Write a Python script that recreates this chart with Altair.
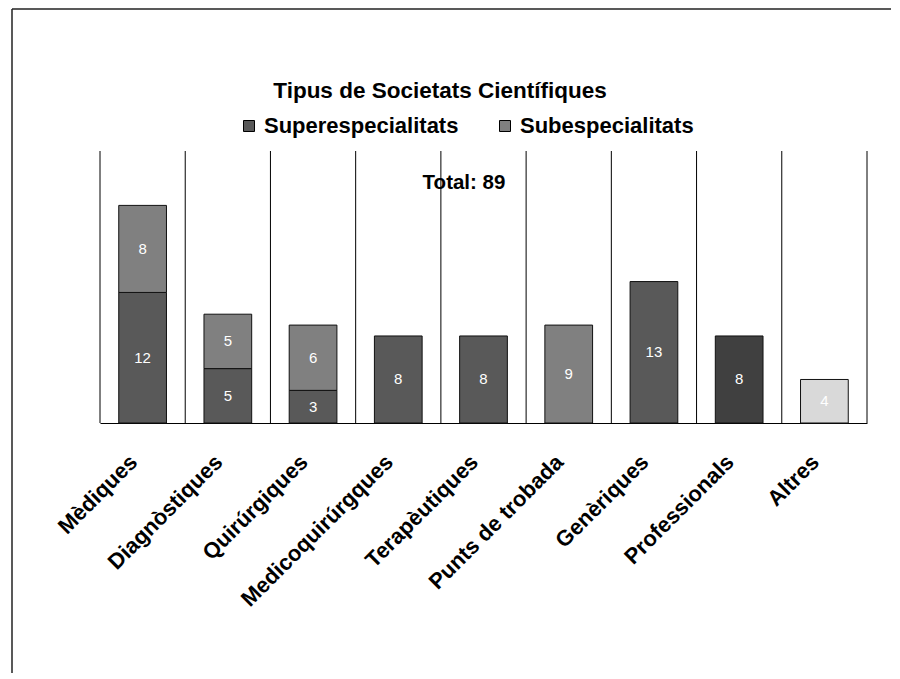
import altair as alt
import pandas as pd

categories = ["Mèdiques", "Diagnòstiques", "Quirúrgiques", "Medicoquirúrgques",
              "Terapèutiques", "Punts de trobada", "Genèriques", "Professionals", "Altres"]
series_names = ["Superespecialitats", "Subespecialitats", "Professionals", "Altres"]
superesp = [12, 5, 3, 8, 8, 0, 13, 0, 0]
subesp = [8, 5, 6, 0, 0, 9, 0, 0, 0]
professionals = [0, 0, 0, 0, 0, 0, 0, 8, 0]
altres = [0, 0, 0, 0, 0, 0, 0, 0, 4]
series_colors = ["#595959", "#808080", "#404040", "#d9d9d9"]
title_text = "Tipus de Societats Científiques"
total_text = "Total: 89"

rows = []
for si, (name, vals) in enumerate(zip(series_names, [superesp, subesp, professionals, altres])):
    for c, v in zip(categories, vals):
        if v > 0:
            rows.append({"cat": c, "serie": name, "value": v, "ord": si})
df = pd.DataFrame(rows)

W, H = 767, 272
PR = 24
FONT = "Liberation Sans"

x_scale = alt.Scale(domain=categories, paddingInner=0, paddingOuter=0)
y_scale = alt.Scale(domain=[0, 25], nice=False)

x_axis = alt.Axis(title=None, labelAngle=-45, labelFont=FONT, labelFontSize=22,
                  labelFontWeight="bold", labelColor="black", labelPadding=28,
                  labelOffset=-16, ticks=False, domainColor="black", domainWidth=1,
                  grid=False, labelLimit=400)

grid = alt.Chart(pd.DataFrame({"cat": categories})).mark_rule(color="black", strokeWidth=1).encode(
    x=alt.X("cat:N", scale=x_scale, bandPosition=0, axis=x_axis),
    y=alt.value(0), y2=alt.value(H))
grid_end = alt.Chart(pd.DataFrame({"cat": categories[-1:]})).mark_rule(color="black", strokeWidth=1).encode(
    x=alt.X("cat:N", scale=x_scale, bandPosition=1),
    y=alt.value(0), y2=alt.value(H))

bars = alt.Chart(df).mark_bar(width=alt.RelativeBandSize(0.56), stroke="#111111", strokeWidth=1).encode(
    x=alt.X("cat:N", scale=x_scale),
    y=alt.Y("value:Q", stack="zero", scale=y_scale, axis=None),
    color=alt.Color("serie:N", scale=alt.Scale(domain=series_names, range=series_colors),
                    legend=alt.Legend(title=None, values=series_names[:2], orient="none",
                                      legendX=138, legendY=-36, direction="horizontal",
                                      symbolType="square", symbolSize=121,
                                      symbolStrokeColor="black", symbolStrokeWidth=1,
                                      labelFont=FONT, labelFontSize=22, labelFontWeight="bold",
                                      labelColor="black", columnPadding=35, labelOffset=4,
                                      labelLimit=400, padding=0)),
    order=alt.Order("ord:Q"))

labels = alt.Chart(df).transform_stack(
    stack="value", groupby=["cat"], as_=["v0", "v1"], sort=[alt.SortField("ord")]
).transform_calculate(mid="(datum.v0 + datum.v1) / 2").mark_text(
    color="white", font=FONT, fontSize=15, baseline="middle").encode(
    x=alt.X("cat:N", scale=x_scale),
    y=alt.Y("mid:Q", scale=y_scale),
    text="value:Q")

title = alt.Chart(pd.DataFrame({"t": [title_text]})).mark_text(
    font=FONT, fontSize=22.5, fontWeight="bold", color="black", align="center", baseline="alphabetic"
).encode(x=alt.value(340), y=alt.value(-53), text="t:N")

total = alt.Chart(pd.DataFrame({"t": [total_text]})).mark_text(
    font=FONT, fontSize=20.5, fontWeight="bold", color="black", align="center", baseline="alphabetic"
).encode(x=alt.value(364), y=alt.value(38), text="t:N")

one = pd.DataFrame({"a": [0]})
border_top = alt.Chart(one).mark_rule(color="#222222", strokeWidth=1.5).encode(
    x=alt.value(-88), x2=alt.value(W + PR), y=alt.value(-142))
border_left = alt.Chart(one).mark_rule(color="#222222", strokeWidth=1.5).encode(
    x=alt.value(-88), y=alt.value(-142), y2=alt.value(H + 250))

chart = alt.layer(grid, grid_end, bars, labels, title, total, border_top, border_left).properties(
    width=W, height=H,
    padding={"left": 92, "top": 143, "right": PR, "bottom": 250},
    autosize=alt.AutoSizeParams(type="none"),
).configure_view(stroke=None)

chart.save("out.html", embed_options={"renderer": "svg", "actions": False})
